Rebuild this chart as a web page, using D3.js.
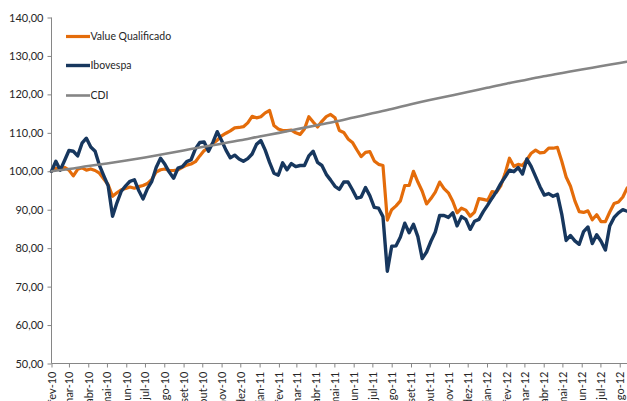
<!DOCTYPE html>
<html><head><meta charset="utf-8">
<script src="https://cdn.jsdelivr.net/npm/d3@7/dist/d3.min.js"></script>
<style>
html,body{margin:0;padding:0;background:#fff;overflow:hidden}
svg{display:block}
text{font-family:Lato,"Open Sans",sans-serif;fill:#262626}
</style></head>
<body>
<svg id="chart" width="627" height="401"></svg>
<script>
// ---- data (weekly samples starting 1 Feb 2010) ----
const valueQualificado = [100,100.8,100.4,101,100.3,98.8,100.5,100.9,100.3,100.6,100.2,99.5,98,96.5,93.5,94.4,95.2,95.5,95.9,95.6,96,96.3,96.8,97.9,99.8,100.4,100.6,100.2,100.2,100.4,101,101.6,101.9,102.5,104,105.4,106.1,107.2,108.1,109.2,109.9,110.5,111.3,111.4,111.6,112.6,114.3,113.9,114.2,115.2,115.8,111.9,111,110.6,110.6,110.7,110,109.6,111,114.2,112.8,111.5,113,114.2,114.8,113.9,110.6,110.1,108.4,107.5,105.6,103.8,104.9,105.1,102.7,101.8,101.5,87.3,90,91,92.3,96.3,96.3,100,97.2,94.8,91.5,92.9,94.6,97.2,95.5,94.4,92.2,89.2,90.4,89.9,88.3,89.4,92.9,92.7,92.4,94.7,94.5,96.2,99.4,103.4,101.3,101.8,101.5,103,104.7,105.5,104.8,104.9,106,106,106.2,102.6,98.5,96.1,92.3,89.5,89.3,89.7,87.4,88.7,86.9,86.9,89.4,91.6,92,93.3,95.7];
const ibovespa = [100,102.6,100.3,102.8,105.4,105.2,104,107.3,108.6,106.3,105.2,101.5,98.8,96.2,88.3,91.8,94.8,96.2,97.4,97.8,95,92.8,95.5,97.4,101,103.4,101.8,99.8,98.2,100.8,101.2,102.5,103,105.8,107.5,107.6,105.2,107.5,110.3,108,105.5,103.5,104.2,103.2,102.6,103.3,104.5,107,108,105.5,102.3,99.5,99,102.2,100.4,102,101.2,101.5,101.5,104,105.2,102.3,101.5,99.2,97.7,96.1,95.3,97.2,97.2,95.2,93,93.3,95.8,93.6,90.6,90.4,88.2,74,80.5,80.6,82.9,86.5,84,86.2,83,77.3,79,81.8,84.2,88.5,88.5,88,89.2,85.8,88.2,87.5,84.9,87,87.5,89.5,91.2,93,94.7,96.8,98.5,100.3,99.9,101,99.3,103.2,101.2,98.6,96,93.8,94.2,93.5,94,88.8,82,83.3,81.9,81,84.3,85.5,81.2,83.5,81.8,79.5,85.8,88,89.2,90,89.6];
// CDI at the start of each month (Feb 2010 .. Aug 2012) plus last day
const cdi = [100,100.59,101.35,102.02,102.79,103.6,104.49,105.42,106.32,107.18,108.05,109.05,109.99,110.91,111.93,112.87,113.99,115.07,116.19,117.43,118.53,119.58,120.61,121.71,122.79,123.7,124.7,125.57,126.49,127.3,128.17,128.5];
const seriesNames = ["Value Qualificado","Ibovespa","CDI"];
const yTicks = [50,60,70,80,90,100,110,120,130,140];
const monthNames = ["jan","fev","mar","abr","mai","jun","jul","ago","set","out","nov","dez"];

const startDate = new Date(2010,1,1);
const weekDates = ibovespa.map((_,i)=>d3.timeDay.offset(startDate,7*i));
const endDate = weekDates[weekDates.length-1];
const monthStarts = d3.timeMonth.range(startDate, new Date(2012,7,2));
const cdiDates = monthStarts.concat([endDate]);

// ---- layout ----
const svg = d3.select("#chart");
const x = d3.scaleTime().domain([startDate,endDate]).range([51.5,627.2]);
const y = d3.scaleLinear().domain([50,140]).range([363.5,17.5]);
const axisColor = "#868686";

// y axis
const yAxis = svg.append("g").attr("transform","translate(51.5,0)")
  .call(d3.axisLeft(y).tickValues(yTicks).tickSize(4).tickPadding(4)
    .tickFormat(d=>d3.format(".2f")(d).replace(".",",")));
yAxis.select(".domain").attr("stroke",axisColor).attr("d","M0,17.5V363.5");
yAxis.selectAll(".tick line").attr("stroke",axisColor);
yAxis.selectAll("text").style("font-size","11px").attr("fill","#262626");

// x axis
const xAxis = svg.append("g").attr("transform","translate(0,363.5)")
  .call(d3.axisBottom(x).tickValues(monthStarts).tickSize(4)
    .tickFormat(d=>monthNames[d.getMonth()]+"-"+String(d.getFullYear()).slice(2)));
xAxis.select(".domain").attr("stroke",axisColor).attr("d","M51.5,0H627");
xAxis.selectAll(".tick line").attr("stroke",axisColor);
xAxis.selectAll("text").style("font-size","11px").attr("fill","#262626")
  .attr("text-anchor","end").attr("transform","rotate(-90)")
  .attr("x",-8).attr("y",0).attr("dy","0.35em");

// lines
const colors = ["#E46C0A","#17375E","#858585"];
const widths = [3.2,3.4,2.6];
const lineGen = d3.line().x(d=>x(d[0])).y(d=>y(d[1]));
const seriesData = [
  weekDates.map((d,i)=>[d,valueQualificado[i]]),
  weekDates.map((d,i)=>[d,ibovespa[i]]),
  cdiDates.map((d,i)=>[d,cdi[i]])
];
seriesData.forEach((s,i)=>{
  svg.append("path").datum(s)
    .attr("d", i===2 ? lineGen.curve(d3.curveMonotoneX)(s) : lineGen.curve(d3.curveLinear)(s))
    .attr("fill","none").attr("stroke",colors[i]).attr("stroke-width",widths[i])
    .attr("stroke-linejoin","round").attr("stroke-linecap","round");
});

// legend
const legendY = [36.5,65.5,95.5];
seriesNames.forEach((n,i)=>{
  const g = svg.append("g");
  g.append("line").attr("x1",66).attr("x2",90).attr("y1",legendY[i]).attr("y2",legendY[i])
    .attr("stroke",colors[i]).attr("stroke-width",widths[i]);
  g.append("text").attr("x",90.5).attr("y",legendY[i]).attr("dy","0.35em")
    .style("font-size","10.5px").text(n);
});
</script>
</body></html>
